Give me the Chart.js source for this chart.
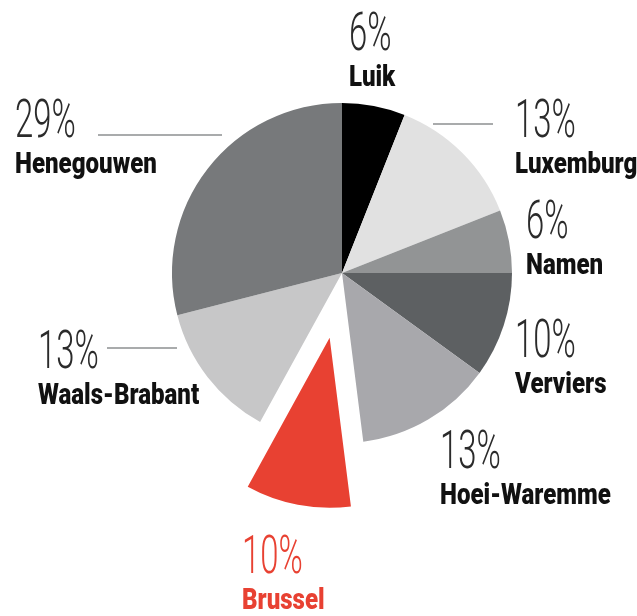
<!DOCTYPE html>
<html>
<head>
<meta charset="utf-8">
<script src="https://cdn.jsdelivr.net/npm/chart.js@4/dist/chart.umd.min.js"></script>
<style>
  html, body { margin: 0; padding: 0; background: #fff; }
  #wrap { width: 637px; height: 616px; position: relative; }
</style>
</head>
<body>
<div id="wrap"><canvas id="pie"></canvas></div>
<script>
// data, clockwise from 12 o'clock
const regions = ["Luik", "Luxemburg", "Namen", "Verviers", "Hoei-Waremme", "Brussel", "Waals-Brabant", "Henegouwen"];
const shares = [6, 13, 6, 10, 13, 10, 13, 29];

const sliceColors = ["#000000", "#e1e1e1", "#929495", "#5d6062", "#a8a8ac", "#e84132", "#c7c7c8", "#77797b"];
const textColors = ["#111", "#111", "#111", "#111", "#111", "#e84132", "#111", "#111"];
const explodeBy = [0, 0, 0, 0, 0, 66, 0, 0];

// label placement relative to pie center: left x, baseline of the percent
const labelPos = [
  [7, -223], [173, -136], [184, -35], [173, 84],
  [98, 195], [-100, 300], [-304, 95], [-327, -136]
];
// leader lines relative to pie center: x1, x2, y  (null = none)
const leaders = [null, [91, 151, -149], null, null, null, null, [-235, -165, 75], [-244, -120, -138]];

function condensedText(ctx, text, x, y, font, sx, color) {
  ctx.save();
  ctx.translate(x, y);
  ctx.scale(sx, 1);
  ctx.font = font;
  ctx.fillStyle = color;
  ctx.textAlign = "left";
  ctx.textBaseline = "alphabetic";
  ctx.fillText(text, 0, 0);
  ctx.restore();
}

// pull single slices outward without growing them (the built-in offset also enlarges the arc)
const explodePlugin = {
  id: "explode",
  afterDatasetUpdate(chart, args) {
    args.meta.data.forEach((arc, i) => {
      const push = explodeBy[i];
      if (!push || arc._wrapped) return;
      const baseDraw = arc.draw.bind(arc);
      arc.draw = function (ctx, area) {
        const mid = (this.startAngle + this.endAngle) / 2;
        ctx.save();
        ctx.translate(Math.cos(mid) * push, Math.sin(mid) * push);
        baseDraw(ctx, area);
        ctx.restore();
      };
      arc._wrapped = true;
    });
  }
};

const labelPlugin = {
  id: "labels",
  afterDraw(chart) {
    const ctx = chart.ctx;
    const arcs = chart.getDatasetMeta(0).data;
    const cx = arcs[0].x, cy = arcs[0].y;

    ctx.save();
    ctx.strokeStyle = "#8d8f91";
    ctx.lineWidth = 1.5;
    leaders.forEach(l => {
      if (!l) return;
      ctx.beginPath();
      ctx.moveTo(cx + l[0], cy + l[2]);
      ctx.lineTo(cx + l[1], cy + l[2]);
      ctx.stroke();
    });
    ctx.restore();

    regions.forEach((name, i) => {
      const x = cx + labelPos[i][0];
      const y = cy + labelPos[i][1];
      const pctColor = i === 5 ? textColors[i] : "#2b2b2b";
      condensedText(ctx, shares[i] + "%", x, y, "300 53px Roboto", 0.62, pctColor);
      condensedText(ctx, name, x, y + 36, "900 29px Roboto", 0.83, textColors[i]);
    });
  }
};

new Chart(document.getElementById("pie"), {
  type: "pie",
  data: {
    labels: regions,
    datasets: [{
      data: shares,
      backgroundColor: sliceColors,
      borderWidth: 0,
      hoverOffset: 0
    }]
  },
  options: {
    responsive: true,
    maintainAspectRatio: false,
    animation: false,
    radius: 170,
    layout: { padding: { left: 47, right: 0, top: 0, bottom: 70 } },
    plugins: {
      legend: { display: false },
      tooltip: { enabled: false }
    }
  },
  plugins: [explodePlugin, labelPlugin]
});
</script>
</body>
</html>
